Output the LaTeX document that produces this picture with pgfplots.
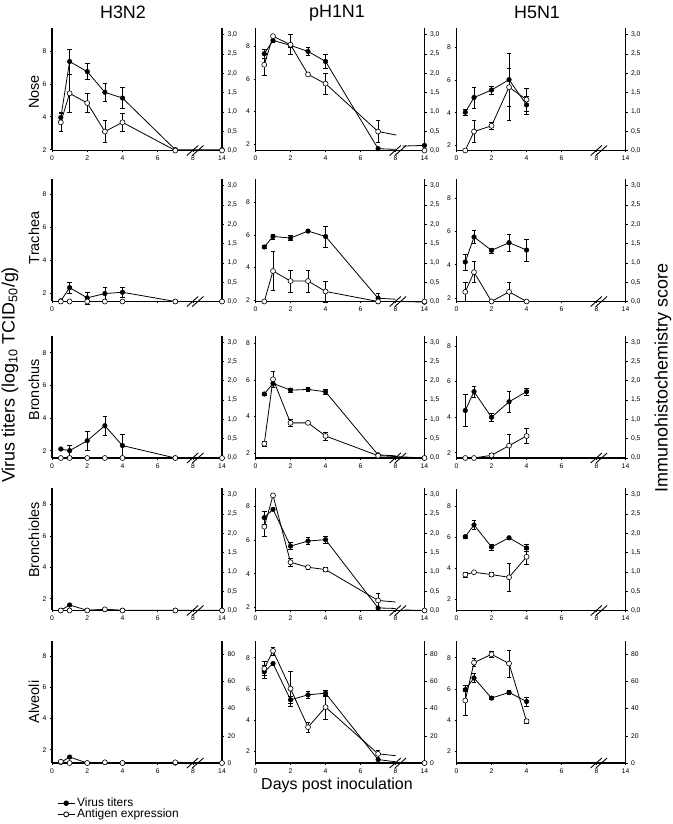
\documentclass[border=0pt]{standalone}
\usepackage{fontspec}
\setmainfont{Liberation Sans}
\usepackage{pgfplots}
\pgfplotsset{compat=1.18}
\pgfplotsset{
  /pgf/number format/assume math mode=true,
  base/.style={scale only axis, height=122bp, xmin=0, xmax=9.65, clip=false,
    anchor=south west,
    tick label style={font=\fontsize{6.8}{7}\selectfont, black},
    tick align=outside, major tick length=2bp,
    axis line style={line width=1.1bp, black},
    tick style={line width=0.6bp, black}},
  L/.style={base, axis x line*=bottom, axis y line*=left,
    xtick={0,2,4,6,8,9.65}, xticklabels={0,2,4,6,8,14}, ytick={2,4,6,8}},
  R/.style={base, axis x line=none, axis y line*=right, xtick=\empty,
    ymin=0, ymax=3.16, ytick={0,0.5,1,1.5,2,2.5,3},
    yticklabel style={/pgf/number format/fixed, /pgf/number format/fixed zerofill,
      /pgf/number format/precision=1, /pgf/number format/use comma}},
  RA/.style={base, axis x line=none, axis y line*=right, xtick=\empty,
    ymin=0, ymax=89.8, ytick={0,20,40,60,80}},
  c1/.style={width=170bp},
  c2/.style={width=169bp},
  vt/.style={black, line width=0.8bp, mark=*, mark size=2.3bp,
    mark options={solid, fill=black, line width=0.5bp},
    error bars/y dir=both, error bars/y explicit,
    error bars/error bar style={line width=0.6bp, black},
    error bars/error mark options={rotate=90, mark size=2.3bp, line width=0.6bp, black}},
  ae/.style={black, line width=0.8bp, mark=*, mark size=2.5bp,
    mark options={solid, fill=white, line width=0.6bp},
    error bars/y dir=both, error bars/y explicit,
    error bars/error bar style={line width=0.6bp, black},
    error bars/error mark options={rotate=90, mark size=2.3bp, line width=0.6bp, black}},
  tl/.style={black, line width=0.8bp},
  tvt/.style={black, line width=0.8bp, mark=*, mark size=2.3bp, mark indices={2},
    mark options={solid, fill=black, line width=0.5bp}},
  tae/.style={black, line width=0.8bp, mark=*, mark size=2.5bp, mark indices={2},
    mark options={solid, fill=white, line width=0.6bp}},
}
\newcommand{\brk}{%
  \draw[black, line width=0.9bp] ([yshift=-5bp]axis cs:7.66,0) -- ([yshift=5bp]axis cs:8.3,0);
  \draw[black, line width=0.9bp] ([yshift=-5bp]axis cs:7.96,0) -- ([yshift=5bp]axis cs:8.6,0);}
\begin{document}
\begin{tikzpicture}
\useasboundingbox (0,0) rectangle (673bp,824bp);

% ================= NOSE =================
\begin{axis}[L, c1, at={(52bp,673.5bp)}, ymin=1.95, ymax=9.37]
\addplot[vt] coordinates {(0.5,3.95)+-(0,0.3) (1,7.36)+-(0,0.75) (2,6.75)+-(0,0.5) (3,5.49)+-(0,0.55) (4,5.14)+-(0,0.65) (7,2.0) (9.65,2.0)};
\end{axis}
\begin{axis}[R, c1, at={(52bp,673.5bp)}]
\addplot[ae] coordinates {(0.5,0.73)+-(0,0.24) (1,1.48)+-(0,0.49) (2,1.23)+-(0,0.24) (3,0.49)+-(0,0.29) (4,0.73)+-(0,0.24) (7,0) (9.65,0)};
\brk
\end{axis}

\begin{axis}[L, c2, at={(255.5bp,673.5bp)}, ymin=1.63, ymax=9.07]
\addplot[vt] coordinates {(0.5,7.53)+-(0,0.3) (1,8.34)+-(0,0.1) (2,8.04)+-(0,0.1) (3,7.67)+-(0,0.25) (4,7.06)+-(0,0.43) (7,1.74)};
\addplot[tl] coordinates {(7,1.74) (8.0,1.7)};
\addplot[tvt] coordinates {(8.4,1.9) (9.65,1.94)};
\end{axis}
\begin{axis}[R, c2, at={(255.5bp,673.5bp)}]
\addplot[tl] coordinates {(7,0.49) (8.05,0.4)};
\addplot[tae] coordinates {(8.4,0) (9.65,0)};
\addplot[ae] coordinates {(0.5,2.22)+-(0,0.28) (1,2.96) (2,2.74)+-(0,0.26) (3,1.97) (4,1.73)+-(0,0.28) (7,0.49)+-(0,0.29)};
\brk
\end{axis}

\begin{axis}[L, c2, at={(456.5bp,673.5bp)}, ymin=1.7, ymax=9.14]
\addplot[vt] coordinates {(0.5,4.03)+-(0,0.2) (1,4.93)+-(0,0.63) (2,5.39)+-(0,0.25) (3,6.02)+-(0,1.6) (4,4.48)+-(0,0.55)};
\end{axis}
\begin{axis}[R, c2, at={(456.5bp,673.5bp)}]
\addplot[ae] coordinates {(0.5,0) (1,0.49)+-(0,0.29) (2,0.64)+-(0,0.1) (3,1.64) += (0,0.48) -= (0,0.87) (4,1.32)+-(0,0.3)};
\brk
\end{axis}

% ================= TRACHEA =================
\begin{axis}[L, c1, at={(52bp,522.5bp)}, ymin=1.52, ymax=8.91, xticklabels={0,{},{},{},{},{}}]
\addplot[vt] coordinates {(0.5,1.56) (1,2.36)+-(0,0.35) (2,1.74)+-(0,0.36) (3,2.0)+-(0,0.35) (4,2.08)+-(0,0.32) (7,1.52) (9.65,1.52)};
\end{axis}
\begin{axis}[R, c1, at={(52bp,522.5bp)}]
\addplot[ae] coordinates {(0.5,0) (1,0) (2,0) (3,0) (4,0) (7,0) (9.65,0)};
\brk
\end{axis}

\begin{axis}[L, c2, at={(255.5bp,522.5bp)}, ymin=1.9, ymax=9.4]
\addplot[vt] coordinates {(0.5,5.25)+-(0,0.1) (1,5.9)+-(0,0.15) (2,5.8)+-(0,0.15) (3,6.23)+-(0,0.08) (4,5.9)+-(0,0.65) (7,2.1)+-(0,0.3)};
\addplot[tl] coordinates {(7,2.1) (8.0,2.04)};
\addplot[tvt] coordinates {(8.5,1.9) (9.65,1.86)};
\end{axis}
\begin{axis}[R, c2, at={(255.5bp,522.5bp)}]
\addplot[ae] coordinates {(0.5,0) (1,0.79)+-(0,0.5) (2,0.53)+-(0,0.28) (3,0.53)+-(0,0.28) (4,0.26)+-(0,0.27) (7,0) (9.65,0)};
\brk
\end{axis}

\begin{axis}[L, c2, at={(456.5bp,522.5bp)}, ymin=1.8, ymax=9.1]
\addplot[vt] coordinates {(0.5,4.16)+-(0,0.48) (1,5.66)+-(0,0.4) (2,4.86)+-(0,0.15) (3,5.32)+-(0,0.5) (4,4.88)+-(0,0.65)};
\end{axis}
\begin{axis}[R, c2, at={(456.5bp,522.5bp)}]
\addplot[ae] coordinates {(0.5,0.25)+-(0,0.25) (1,0.76)+-(0,0.27) (2,0) (3,0.25)+-(0,0.25) (4,0)};
\brk
\end{axis}

% ================= BRONCHUS =================
\begin{axis}[L, c1, at={(52bp,366bp)}, ymin=1.55, ymax=9.03]
\addplot[vt] coordinates {(0.5,2.1)+-(0,0.06) (1,2.0)+-(0,0.35) (2,2.61)+-(0,0.6) (3,3.53)+-(0,0.6) (4,2.31)+-(0,0.67) (7,1.55) (9.65,1.55)};
\end{axis}
\begin{axis}[R, c1, at={(52bp,366bp)}]
\addplot[ae] coordinates {(0.5,0) (1,0) (2,0) (3,0) (4,0) (7,0) (9.65,0)};
\brk
\end{axis}

\begin{axis}[L, c2, at={(255.5bp,366bp)}, ymin=1.73, ymax=8.42]
\addplot[vt] coordinates {(0.5,5.24)+-(0,0.05) (1,5.82)+-(0,0.2) (2,5.45)+-(0,0.12) (3,5.49)+-(0,0.1) (4,5.36)+-(0,0.15) (7,1.9)};
\addplot[tl] coordinates {(7,1.9) (8.0,1.85)};
\addplot[tvt] coordinates {(8.5,1.75) (9.65,1.73)};
\end{axis}
\begin{axis}[R, c2, at={(255.5bp,366bp)}]
\addplot[ae] coordinates {(0.5,0.37)+-(0,0.06) (1,2.04)+-(0,0.2) (2,0.91)+-(0,0.1) (3,0.91)+-(0,0.05) (4,0.57)+-(0,0.1) (7,0.06)+-(0,0.05) (9.65,0)};
\brk
\end{axis}

\begin{axis}[L, c2, at={(456.5bp,366bp)}, ymin=1.7, ymax=8.56]
\addplot[vt] coordinates {(0.5,4.37)+-(0,0.9) (1,5.43)+-(0,0.3) (2,3.99)+-(0,0.2) (3,4.86)+-(0,0.6) (4,5.43)+-(0,0.2)};
\end{axis}
\begin{axis}[R, c2, at={(456.5bp,366bp)}]
\addplot[ae] coordinates {(0.5,0) (1,0) (2,0.07)+-(0,0.05) (3,0.32)+-(0,0.3) (4,0.57)+-(0,0.2)};
\brk
\end{axis}

% ================= BRONCHIOLES =================
\begin{axis}[L, c1, at={(52bp,213.5bp)}, ymin=1.25, ymax=9.02]
\addplot[vt] coordinates {(0.5,1.26) (1,1.6) (2,1.26) (3,1.32) (4,1.26) (7,1.26) (9.65,1.26)};
\end{axis}
\begin{axis}[R, c1, at={(52bp,213.5bp)}]
\addplot[ae] coordinates {(0.5,0) (1,0) (2,0) (3,0.03) (4,0) (7,0) (9.65,0)};
\brk
\end{axis}

\begin{axis}[L, c2, at={(255.5bp,213.5bp)}, ymin=1.83, ymax=9.03]
\addplot[vt] coordinates {(0.5,7.31)+-(0,0.4) (1,7.8) (2,5.63)+-(0,0.2) (3,5.93)+-(0,0.2) (4,6.01)+-(0,0.2) (7,1.98)};
\addplot[tl] coordinates {(7,1.98) (8.0,1.95)};
\addplot[tvt] coordinates {(8.5,1.86) (9.65,1.83)};
\end{axis}
\begin{axis}[R, c2, at={(255.5bp,213.5bp)}]
\addplot[tl] coordinates {(7,0.26) (8.0,0.22)};
\addplot[tae] coordinates {(8.5,0) (9.65,0)};
\addplot[ae] coordinates {(0.5,2.17)+-(0,0.25) (1,2.98) (2,1.25)+-(0,0.1) (3,1.12)+-(0,0.05) (4,1.06)+-(0,0.05) (7,0.26)+-(0,0.18)};
\brk
\end{axis}

\begin{axis}[L, c2, at={(456.5bp,213.5bp)}, ymin=1.28, ymax=9.15]
\addplot[vt] coordinates {(0.5,6.04)+-(0,0.1) (1,6.8)+-(0,0.3) (2,5.38)+-(0,0.2) (3,5.97)+-(0,0.1) (4,5.32)+-(0,0.2)};
\end{axis}
\begin{axis}[R, c2, at={(456.5bp,213.5bp)}]
\addplot[ae] coordinates {(0.5,0.93)+-(0,0.06) (1,0.99) (2,0.93)+-(0,0.05) (3,0.86)+-(0,0.35) (4,1.39)+-(0,0.2)};
\brk
\end{axis}

% ================= ALVEOLI =================
\begin{axis}[L, c1, at={(52bp,61bp)}, ymin=1.15, ymax=8.95,
  legend style={at={(axis description cs:0.03,-0.27)}, anchor=north west, draw=none, fill=none,
    font=\fontsize{12}{12}\selectfont, row sep=-3bp, inner sep=0pt, cells={anchor=west}}]
\addlegendimage{black, line width=0.8bp, mark=*, mark size=2.3bp, mark options={fill=black}}
\addlegendentry{Virus titers}
\addlegendimage{black, line width=0.8bp, mark=*, mark size=2.5bp, mark options={fill=white}}
\addlegendentry{Antigen expression}
\addplot[vt] coordinates {(0.5,1.19) (1,1.53) (2,1.15) (3,1.19) (4,1.15) (7,1.15) (9.65,1.15)};
\end{axis}
\begin{axis}[RA, c1, at={(52bp,61bp)}]
\addplot[ae] coordinates {(0.5,1) (1,0) (2,0) (3,0.5) (4,0) (7,0.5) (9.65,0)};
\brk
\end{axis}

\begin{axis}[L, c2, at={(255.5bp,61bp)}, ymin=1.22, ymax=9.08]
\addplot[vt] coordinates {(0.5,7.09)+-(0,0.4) (1,7.63)+-(0,0.1) (2,5.29)+-(0,0.25) (3,5.61)+-(0,0.2) (4,5.72)+-(0,0.2) (7,1.44)};
\addplot[tl] coordinates {(7,1.44) (8.0,1.3)};
\addplot[tvt] coordinates {(8.5,1.25) (9.65,1.22)};
\end{axis}
\begin{axis}[RA, c2, at={(255.5bp,61bp)}]
\addplot[tl] coordinates {(7,6.7) (8.0,5.4)};
\addplot[tae] coordinates {(8.5,0) (9.65,0)};
\addplot[ae] coordinates {(0.5,69.5)+-(0,5) (1,82.5)+-(0,3) (2,54.7)+-(0,13) (3,26.4)+-(0,3.5) (4,41.1)+-(0,9) (7,6.7)+-(0,3)};
\brk
\end{axis}

\begin{axis}[L, c2, at={(456.5bp,61bp)}, ymin=1.22, ymax=9.08]
\addplot[vt] coordinates {(0.5,5.94)+-(0,0.1) (1,6.7)+-(0,0.3) (2,5.4)+-(0,0.1) (3,5.77)+-(0,0.15) (4,5.18)+-(0,0.3)};
\end{axis}
\begin{axis}[RA, c2, at={(456.5bp,61bp)}]
\addplot[ae] coordinates {(0.5,46)+-(0,11) (1,73.9)+-(0,3) (2,80)+-(0,2.5) (3,73.2)+-(0,10) (4,30.8)+-(0,1.5)};
\brk
\end{axis}

% ================= LABELS =================
\node[font=\fontsize{18}{18}\selectfont] at (123bp,812bp) {H3N2};
\node[font=\fontsize{18}{18}\selectfont] at (337bp,811bp) {pH1N1};
\node[font=\fontsize{18}{18}\selectfont] at (537bp,812bp) {H5N1};

\node[rotate=90, font=\fontsize{14.5}{14.5}\selectfont] at (34bp,732bp) {Nose};
\node[rotate=90, font=\fontsize{14.5}{14.5}\selectfont] at (34bp,586bp) {Trachea};
\node[rotate=90, font=\fontsize{14.5}{14.5}\selectfont] at (34bp,434bp) {Bronchus};
\node[rotate=90, font=\fontsize{14.5}{14.5}\selectfont] at (34bp,284bp) {Bronchioles};
\node[rotate=90, font=\fontsize{14.5}{14.5}\selectfont] at (34bp,122bp) {Alveoli};

\node[rotate=90, font=\fontsize{18}{18}\selectfont] at (10bp,449bp) {Virus titers (log\textsubscript{10} TCID\textsubscript{50}/g)};
\node[rotate=90, font=\fontsize{18}{18}\selectfont] at (663bp,446bp) {Immunohistochemistry score};
\node[font=\fontsize{16}{16}\selectfont] at (337bp,39bp) {Days post inoculation};
\end{tikzpicture}
\end{document}
